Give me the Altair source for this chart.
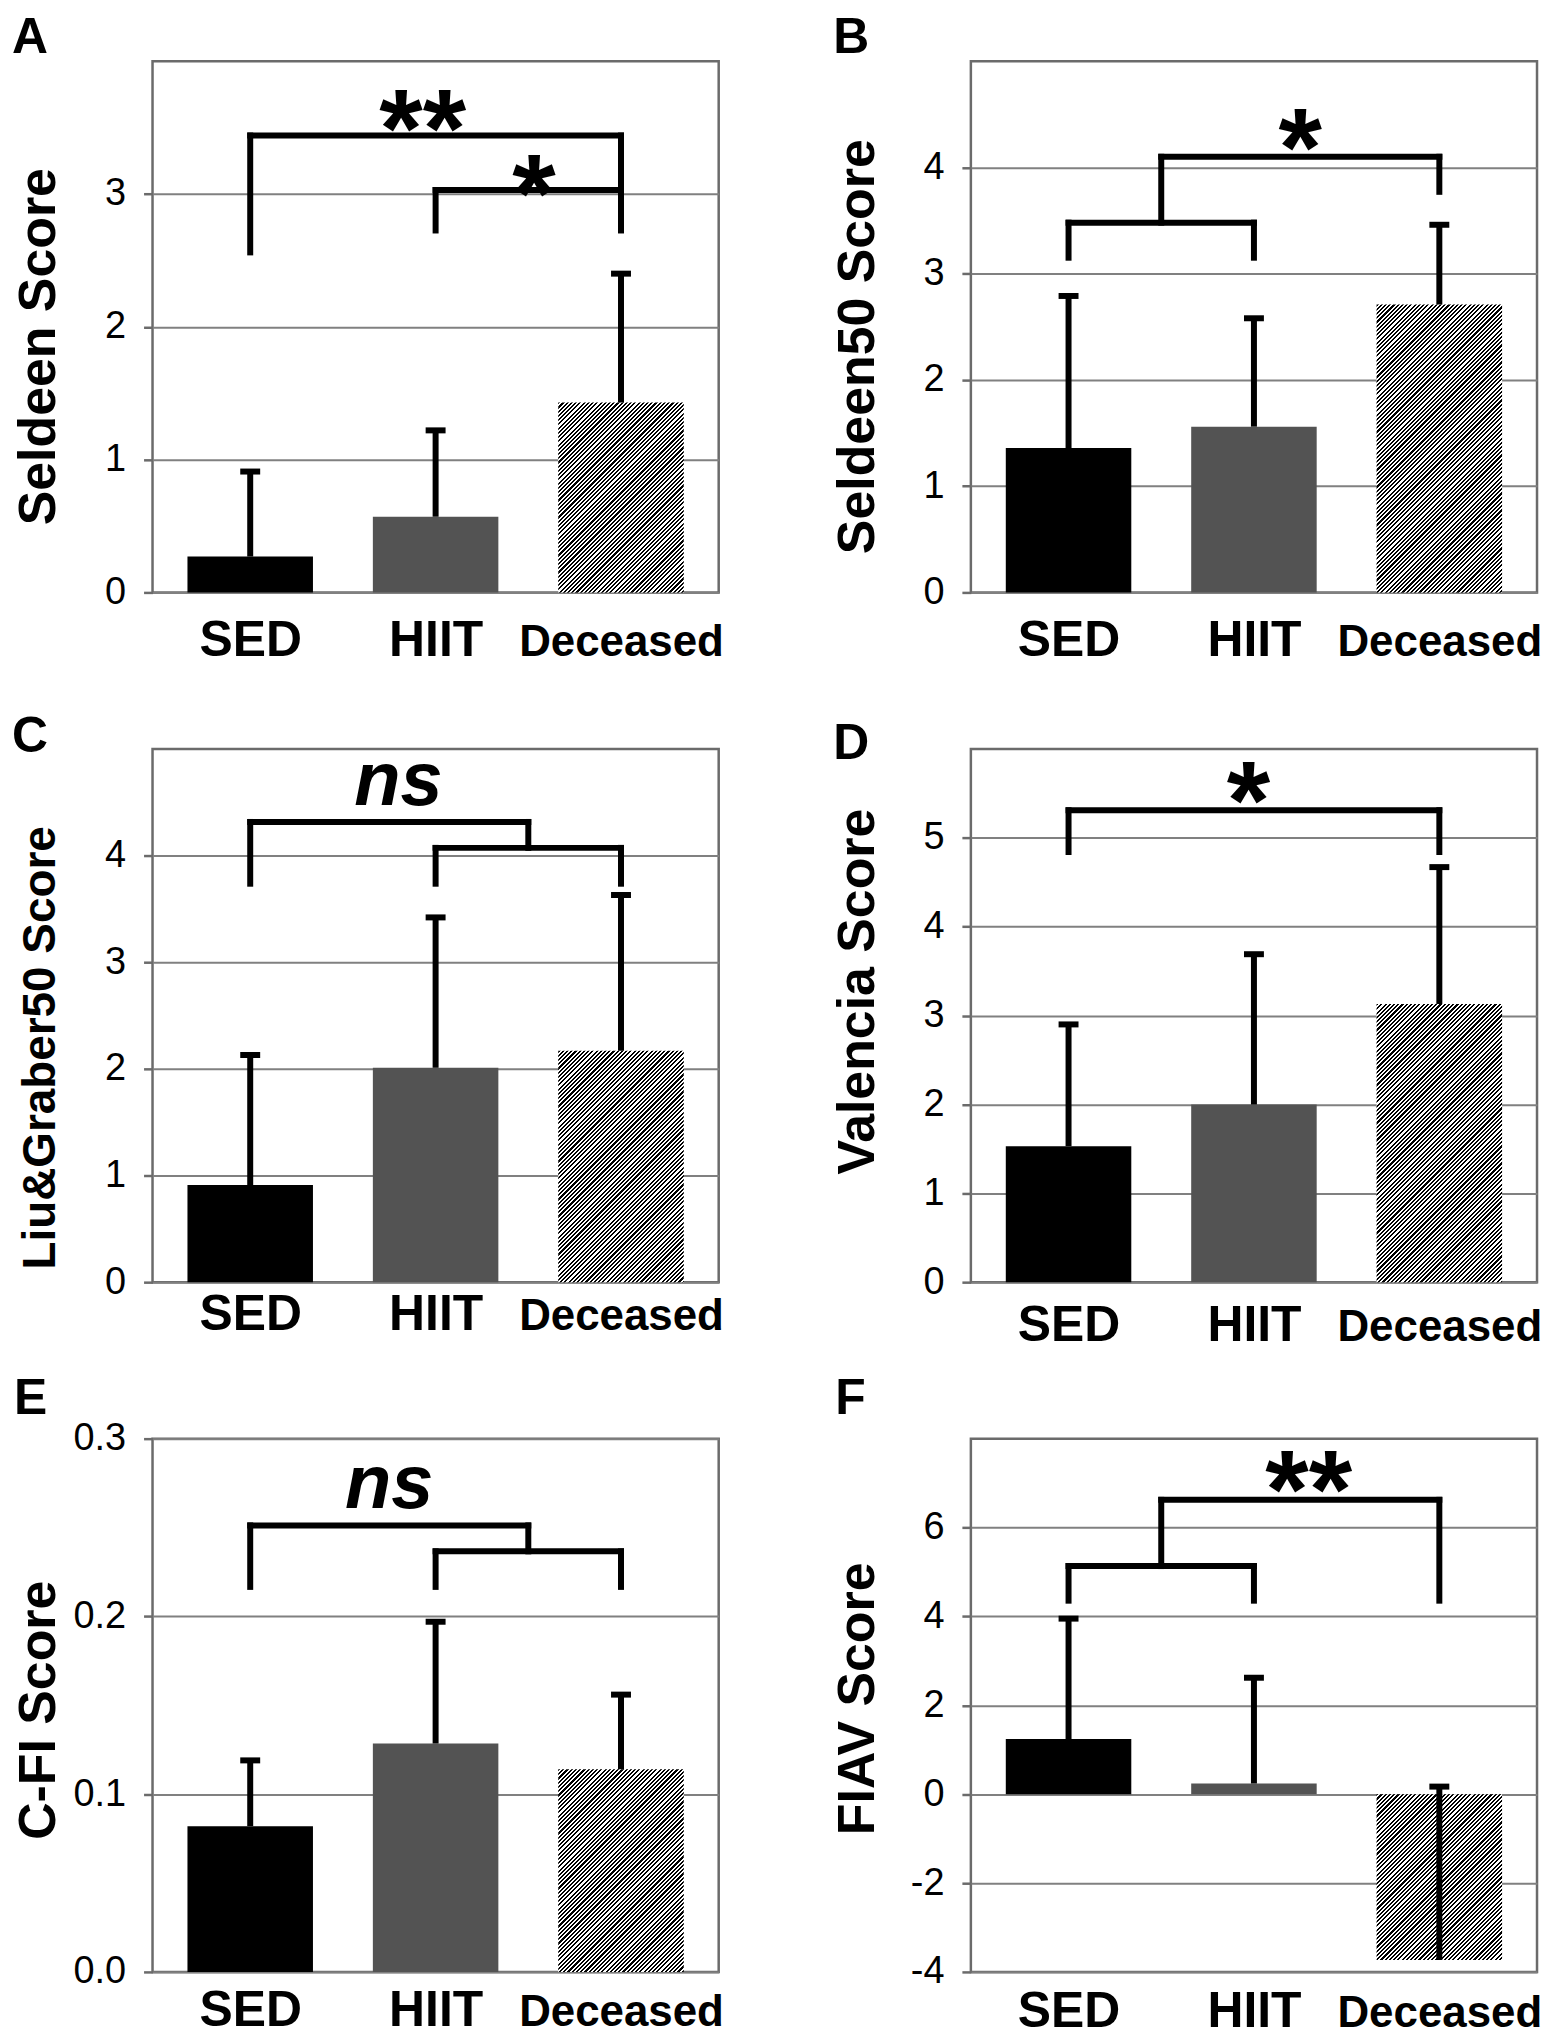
import altair as alt
import pandas as pd

FONT = "Liberation Sans"

GROUPS = ["SED", "HIIT", "Deceased"]
GROUP_IDX = [0, 1, 2]
LETTERS = ["A", "B", "C", "D", "E", "F"]
Y_TITLES = ["Seldeen Score", "Seldeen50 Score", "Liu&Graber50 Score",
            "Valencia Score", "C-FI Score", "FIAV Score"]

# bar heights (means) and error-bar tops (mean + SD)
MEAN_A = [0.27, 0.57, 1.43]
TOP_A = [0.91, 1.22, 2.40]
MEAN_B = [1.36, 1.56, 2.71]
TOP_B = [2.79, 2.58, 3.46]
MEAN_C = [0.91, 2.01, 2.17]
TOP_C = [2.13, 3.42, 3.63]
MEAN_D = [1.53, 2.00, 3.13]
TOP_D = [2.90, 3.69, 4.67]
MEAN_E = [0.082, 0.1285, 0.114]
TOP_E = [0.119, 0.197, 0.156]
MEAN_F = [1.24, 0.24, -3.73]
TOP_F = [3.95, 2.62, 0.17]

# axis domains and tick values
YDOM_A, YTICKS_A = [0, 4], [0, 1, 2, 3]
YDOM_B, YTICKS_B = [0, 5], [0, 1, 2, 3, 4]
YDOM_C, YTICKS_C = [0, 5], [0, 1, 2, 3, 4]
YDOM_D, YTICKS_D = [0, 6], [0, 1, 2, 3, 4, 5]
YDOM_E, YTICKS_E = [0, 0.3], [0, 0.1, 0.2, 0.3]
YDOM_F, YTICKS_F = [-4, 8], [-4, -2, 0, 2, 4, 6]

# significance brackets: segments (group index x..x2, value y..y2)
BR_A_X = [0, 0, 2, 1, 1]
BR_A_X2 = [2, 0, 2, 2, 1]
BR_A_Y = [3.44, 2.56, 2.725, 3.03, 2.725]
BR_A_Y2 = [3.44, 3.44, 3.44, 3.03, 3.03]

BR_B_X = [0, 0, 1, 0.5, 0.5, 2]
BR_B_X2 = [1, 0, 1, 0.5, 2, 2]
BR_B_Y = [3.48, 3.15, 3.15, 3.48, 4.10, 3.77]
BR_B_Y2 = [3.48, 3.48, 3.48, 4.10, 4.10, 4.10]

BR_C_X = [0, 0, 1.5, 1, 1, 2]
BR_C_X2 = [1.5, 0, 1.5, 2, 1, 2]
BR_C_Y = [4.315, 3.736, 4.072, 4.072, 3.736, 3.736]
BR_C_Y2 = [4.315, 4.315, 4.315, 4.072, 4.072, 4.072]

BR_D_X = [0, 0, 2]
BR_D_X2 = [2, 0, 2]
BR_D_Y = [5.31, 4.84, 4.84]
BR_D_Y2 = [5.31, 5.31, 5.31]

BR_E_X = [0, 0, 1.5, 1, 1, 2]
BR_E_X2 = [1.5, 0, 1.5, 2, 1, 2]
BR_E_Y = [0.2512, 0.2166, 0.2366, 0.2366, 0.2166, 0.2166]
BR_E_Y2 = [0.2512, 0.2512, 0.2512, 0.2366, 0.2366, 0.2366]

BR_F_X = [0, 0, 1, 0.5, 0.5, 2]
BR_F_X2 = [1, 0, 1, 0.5, 2, 2]
BR_F_Y = [5.133, 4.354, 4.354, 5.133, 6.623, 4.354]
BR_F_Y2 = [5.133, 5.133, 5.133, 6.623, 6.623, 6.623]

# significance labels
SIG_A_T, SIG_A_X, SIG_A_Y = ["**", "*"], [0.93, 1.53], [3.667, 3.18]
SIG_B_T, SIG_B_X, SIG_B_Y = ["*"], [1.25], [4.41]
SIG_C_T, SIG_C_X, SIG_C_Y = ["ns"], [0.80], [4.66]
SIG_D_T, SIG_D_X, SIG_D_Y = ["*"], [0.97], [5.676]
SIG_E_T, SIG_E_X, SIG_E_Y = ["ns"], [0.75], [0.272]
SIG_F_T, SIG_F_X, SIG_F_Y = ["**"], [1.295], [7.38]

W = 568
BAR_FRAC = 0.665
BAR_W = W / 3 * BAR_FRAC


def hatch(w, h, period=3.0):
    # fine "////" diagonal hatch built from a hard-stop linear gradient
    n = (w + h) / (period * 2 ** 0.5)
    k = (w + h) / (w * w + h * h)
    stops = []
    i = 0
    while i / n < 1:
        a = i / n
        b = min((i + 0.5) / n, 1.0)
        c = min((i + 1) / n, 1.0)
        stops += [{"offset": a, "color": "#000000"}, {"offset": b, "color": "#000000"},
                  {"offset": b, "color": "#ffffff"}, {"offset": c, "color": "#ffffff"}]
        i += 1
    return {"gradient": "linear", "x1": 0, "y1": 0, "x2": k * w, "y2": k * h, "stops": stops}


LABEL_EXPR = "[" + ",".join("'%s'" % g for g in GROUPS) + "][datum.value]"


def make_panel(letter, ytitle, means, tops, ydom, yticks, ylabel_expr,
               bx, bx2, by, by2, st, sx, sy, style):
    H = style["height"]
    qscale = alt.Scale(domain=[-0.5, 2.5], nice=False, zero=False)
    yscale = alt.Scale(domain=ydom, nice=False, zero=False)

    xaxis = alt.Axis(title=None, values=GROUP_IDX, labelExpr=LABEL_EXPR, labelAngle=0,
                     labelFontWeight="bold", labelColor="black", labelLimit=0,
                     labelFontSize={"condition": {"test": "datum.value === 2", "value": 44},
                                    "value": 50},
                     labelBaseline="alphabetic", labelPadding=style["lab_pad"],
                     ticks=False, tickSize=0, domain=False, grid=False,
                     labelOverlap=False, labelFlush=False)
    yaxis = alt.Axis(title=ytitle, values=yticks, labelExpr=ylabel_expr,
                     titleFontSize=style["title_size"], titleFontWeight="bold",
                     titleX=-98, titleY=style["title_y"], titleBaseline="alphabetic",
                     titleAlign="center", labelFontSize=38, labelPadding=18, tickSize=9,
                     domain=False, grid=True, labelColor="black", labelLimit=0)

    def X(field):
        return alt.X(field, scale=qscale, axis=xaxis)

    def Y(field):
        return alt.Y(field, scale=yscale, axis=yaxis)

    df = pd.DataFrame({"i": GROUP_IDX, "group": GROUPS, "v": means, "v2": tops})
    base = alt.Chart(df)

    bars = base.transform_filter("datum.i < 2").mark_bar(size=BAR_W).encode(
        x=X("i:Q"), y=Y("v:Q"),
        color=alt.Color("group:N", scale=alt.Scale(domain=GROUPS[:2], range=["#000000", "#535353"]),
                        legend=None),
    )
    bh = abs(means[2]) / (ydom[1] - ydom[0]) * H
    dec = base.transform_filter("datum.i === 2").mark_bar(size=BAR_W, fill=hatch(BAR_W, bh)).encode(
        x=X("i:Q"), y=Y("v:Q"))
    stems = base.mark_rule(color="black", strokeWidth=6).encode(
        x=X("i:Q"), y=Y("v:Q"), y2="v2:Q")
    caps = base.mark_tick(color="black", thickness=6, size=20, orient="horizontal", opacity=1).encode(
        x=X("i:Q"), y=Y("v2:Q"))

    brdf = pd.DataFrame({"x": bx, "x2": bx2, "v": by, "v2": by2})
    brk = alt.Chart(brdf).mark_rule(color="black", strokeWidth=6, strokeCap="square").encode(
        x=X("x:Q"), x2="x2:Q", y=Y("v:Q"), y2="v2:Q")
    sig = alt.Chart(pd.DataFrame({"x": sx, "v": sy, "t": st})).mark_text(
        font=FONT, fontWeight="bold", fontStyle=style["sig_style"], fontSize=style["sig_size"],
        baseline="alphabetic", dy=style["sig_dy"], color="black").encode(
        x=X("x:Q"), y=Y("v:Q"), text="t:N")
    let = alt.Chart(pd.DataFrame({"t": [letter]})).mark_text(
        align="left", baseline="alphabetic", fontSize=50, fontWeight="bold", font=FONT,
        color="black", x=style["letter_x"], y=style["letter_y"]).encode(text="t:N")

    return alt.layer(bars, dec, stems, caps, brk, sig, let).properties(width=W, height=H)


STAR = dict(sig_size=112, sig_style="normal", sig_dy=62)
NS = dict(sig_size=76, sig_style="italic", sig_dy=20)
INT_LABELS = "'' + datum.value"
DEC_LABELS = "format(datum.value, '.1f')"

pA = make_panel(LETTERS[0], Y_TITLES[0], MEAN_A, TOP_A, YDOM_A, YTICKS_A, INT_LABELS,
                BR_A_X, BR_A_X2, BR_A_Y, BR_A_Y2, SIG_A_T, SIG_A_X, SIG_A_Y,
                dict(STAR, height=533, title_size=52, title_y=286, lab_pad=63,
                     letter_x=-141, letter_y=-8))
pB = make_panel(LETTERS[1], Y_TITLES[1], MEAN_B, TOP_B, YDOM_B, YTICKS_B, INT_LABELS,
                BR_B_X, BR_B_X2, BR_B_Y, BR_B_Y2, SIG_B_T, SIG_B_X, SIG_B_Y,
                dict(STAR, height=533, title_size=52, title_y=286, lab_pad=63,
                     letter_x=-138, letter_y=-8))
pC = make_panel(LETTERS[2], Y_TITLES[2], MEAN_C, TOP_C, YDOM_C, YTICKS_C, INT_LABELS,
                BR_C_X, BR_C_X2, BR_C_Y, BR_C_Y2, SIG_C_T, SIG_C_X, SIG_C_Y,
                dict(NS, height=535, title_size=46, title_y=299.5, lab_pad=47,
                     letter_x=-141, letter_y=3))
pD = make_panel(LETTERS[3], Y_TITLES[3], MEAN_D, TOP_D, YDOM_D, YTICKS_D, INT_LABELS,
                BR_D_X, BR_D_X2, BR_D_Y, BR_D_Y2, SIG_D_T, SIG_D_X, SIG_D_Y,
                dict(STAR, height=535, title_size=52, title_y=243, lab_pad=59,
                     letter_x=-138, letter_y=10))
pE = make_panel(LETTERS[4], Y_TITLES[4], MEAN_E, TOP_E, YDOM_E, YTICKS_E, DEC_LABELS,
                BR_E_X, BR_E_X2, BR_E_Y, BR_E_Y2, SIG_E_T, SIG_E_X, SIG_E_Y,
                dict(NS, height=535, title_size=52, title_y=272, lab_pad=54,
                     letter_x=-139, letter_y=-25))
pF = make_panel(LETTERS[5], Y_TITLES[5], MEAN_F, TOP_F, YDOM_F, YTICKS_F, INT_LABELS,
                BR_F_X, BR_F_X2, BR_F_Y, BR_F_Y2, SIG_F_T, SIG_F_X, SIG_F_Y,
                dict(STAR, height=535, title_size=52, title_y=260.5, lab_pad=55,
                     letter_x=-136, letter_y=-25))

chart = alt.concat(pA, pB, pC, pD, pE, pF, columns=2,
                   spacing={"row": 157, "column": 253}, bounds="flush")

chart = chart.properties(
    padding={"left": 2, "top": 0, "right": 0, "bottom": 0},
    background="white",
).configure(font=FONT).configure_view(
    stroke="#6b6b6b", strokeWidth=2.5
).configure_axis(
    gridColor="#808080", gridWidth=2, tickColor="#6b6b6b", tickWidth=2.5,
    labelFont=FONT, titleFont=FONT, titleColor="black"
)

chart.save("out.html", embed_options={"renderer": "svg", "actions": False})
